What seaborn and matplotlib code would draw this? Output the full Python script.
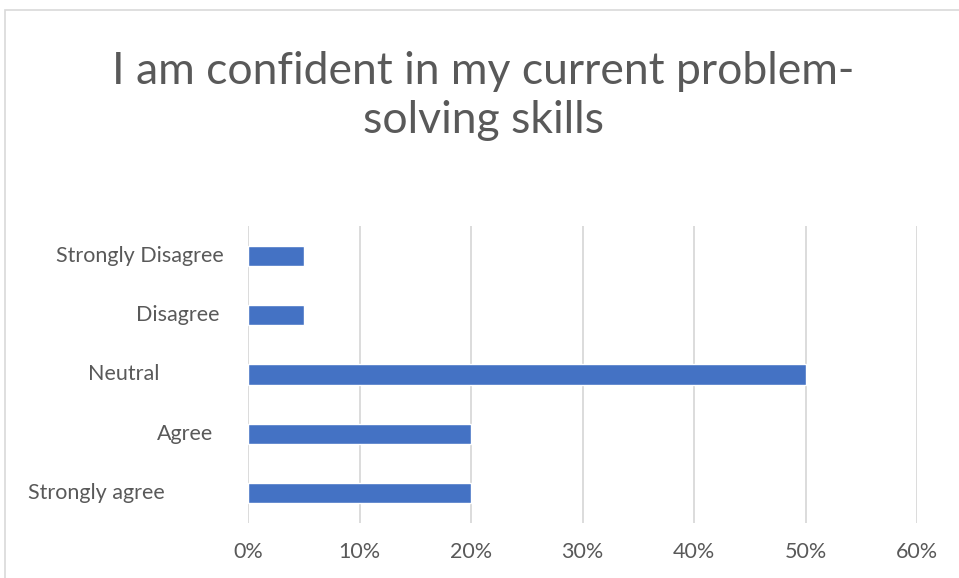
import matplotlib
matplotlib.use("Agg")
import matplotlib.pyplot as plt
from matplotlib.patches import Rectangle
import seaborn as sns
import pandas as pd

categories = ["Strongly Disagree", "Disagree", "Neutral", "Agree", "Strongly agree"]
shares = [5, 5, 50, 20, 20]
x_ticks = [0, 10, 20, 30, 40, 50, 60]
x_tick_labels = ["0%", "10%", "20%", "30%", "40%", "50%", "60%"]
title = "I am confident in my current problem-\nsolving skills"

df = pd.DataFrame({"category": categories, "share": shares})

sns.set_theme(style="white")
plt.rcParams["font.family"] = ["Lato", "DejaVu Sans"]

W, H = 959, 578
fig = plt.figure(figsize=(W / 100, H / 100), dpi=100)
fig.patch.set_facecolor("white")

# chart frame
fig.patches.append(Rectangle((5 / W, -0.05), 1.2, 1 - 9.5 / H + 0.05,
                             transform=fig.transFigure, fill=False,
                             edgecolor="#D9D9D9", linewidth=1.2))

ax = fig.add_axes([248 / W, 1 - 523 / H, (917 - 248) / W, (523 - 226) / H])
sns.barplot(data=df, y="category", x="share", orient="h", color="#4472C4",
            width=0.34, saturation=1, ax=ax)

ax.set_xlim(0, 60)
ax.set_xticks(x_ticks)
ax.set_xticklabels(x_tick_labels, color="#595959", fontsize=15.5)
ax.tick_params(axis="x", length=0, pad=14)
ax.grid(axis="x", color="#D9D9D9", linewidth=1.3)
ax.set_axisbelow(True)
for s in ax.spines.values():
    s.set_visible(False)
ax.set_xlabel("")
ax.set_ylabel("")

# category labels, each with its own gap from the axis
ax.set_yticks(range(len(categories)))
ax.set_yticklabels([])
ax.tick_params(axis="y", length=0)
gaps_px = [24, 29, 89, 35, 83]
for i, (lab, g) in enumerate(zip(categories, gaps_px)):
    ax.annotate(lab, xy=(0, i), xycoords=("axes fraction", "data"),
                xytext=(-g * 0.72, 0), textcoords="offset points",
                ha="right", va="center", fontsize=15.5, color="#595959")

fig.text(483 / W, 1 - 96 / H, title, ha="center", va="center",
         fontsize=32, color="#595959", linespacing=1.22)

fig.savefig("out.png", dpi=100, facecolor="white")
